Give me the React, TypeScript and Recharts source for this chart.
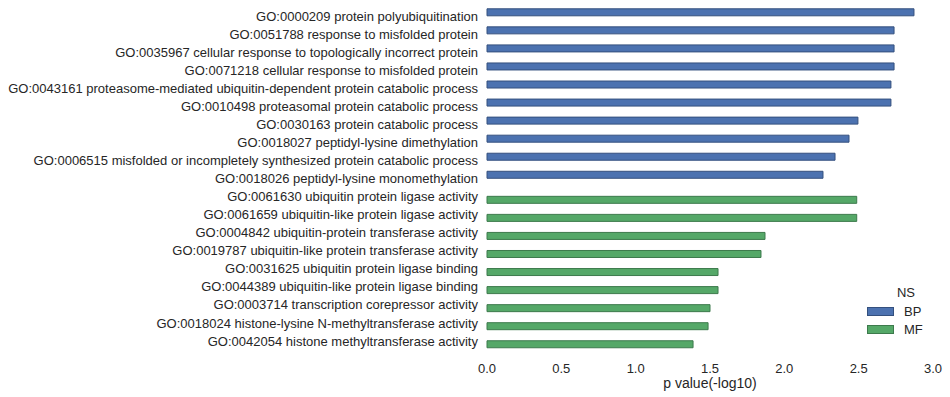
import React from "react";
import { BarChart, Bar, XAxis, YAxis, Legend } from "recharts";

const categories = [
  "GO:0000209 protein polyubiquitination",
  "GO:0051788 response to misfolded protein",
  "GO:0035967 cellular response to topologically incorrect protein",
  "GO:0071218 cellular response to misfolded protein",
  "GO:0043161 proteasome-mediated ubiquitin-dependent protein catabolic process",
  "GO:0010498 proteasomal protein catabolic process",
  "GO:0030163 protein catabolic process",
  "GO:0018027 peptidyl-lysine dimethylation",
  "GO:0006515 misfolded or incompletely synthesized protein catabolic process",
  "GO:0018026 peptidyl-lysine monomethylation",
  "GO:0061630 ubiquitin protein ligase activity",
  "GO:0061659 ubiquitin-like protein ligase activity",
  "GO:0004842 ubiquitin-protein transferase activity",
  "GO:0019787 ubiquitin-like protein transferase activity",
  "GO:0031625 ubiquitin protein ligase binding",
  "GO:0044389 ubiquitin-like protein ligase binding",
  "GO:0003714 transcription corepressor activity",
  "GO:0018024 histone-lysine N-methyltransferase activity",
  "GO:0042054 histone methyltransferase activity",
];

const nsGroup = [
  "BP", "BP", "BP", "BP", "BP", "BP", "BP", "BP", "BP", "BP",
  "MF", "MF", "MF", "MF", "MF", "MF", "MF", "MF", "MF",
];

const pValues = [
  2.872, 2.738, 2.738, 2.738, 2.717, 2.717, 2.495, 2.435, 2.341, 2.26,
  2.487, 2.487, 1.87, 1.843, 1.554, 1.554, 1.5, 1.487, 1.386,
];

const xTicks = [0, 0.5, 1.0, 1.5, 2.0, 2.5, 3.0];

const data = categories.map((name, i) => ({
  name,
  BP: nsGroup[i] === "BP" ? pValues[i] : null,
  MF: nsGroup[i] === "MF" ? pValues[i] : null,
}));

const BP_COLOR = "#4C72B0";
const MF_COLOR = "#55A868";
const TEXT = "#262626";
const FONT = "'Liberation Sans', Arial, sans-serif";

const LegendContent = () => (
  <div style={{ fontFamily: FONT, color: TEXT, fontSize: 13 }}>
    <div style={{ textAlign: "center", marginLeft: 8, height: 18, lineHeight: "18px" }}>NS</div>
    {[
      { k: "BP", c: BP_COLOR, s: "#34507e" },
      { k: "MF", c: MF_COLOR, s: "#3d7a4c" },
    ].map((it) => (
      <div key={it.k} style={{ display: "flex", alignItems: "center", height: 18 }}>
        <div
          style={{
            width: 25,
            height: 7,
            background: it.c,
            border: `1px solid ${it.s}`,
            marginRight: 10,
          }}
        />
        <span>{it.k}</span>
      </div>
    ))}
  </div>
);

const YTick = (props: any) => {
  const { x, y, payload } = props;
  return (
    <text x={x} y={y} dy="0.355em" textAnchor="end" fill={TEXT} fontSize={13} fontFamily={FONT}>
      {payload.value}
    </text>
  );
};

export default function App() {
  return (
    <div style={{ position: "absolute", left: 0, top: 0, background: "#fff" }}>
      <BarChart
        width={950}
        height={397}
        data={data}
        layout="vertical"
        margin={{ top: 7, right: 17, bottom: 0, left: 0 }}
        barCategoryGap="10%"
        barGap={0}
        style={{ fontFamily: FONT }}
      >
        <XAxis
          type="number"
          domain={[0, 3]}
          ticks={xTicks}
          tickFormatter={(v: number) => v.toFixed(1)}
          axisLine={false}
          tickLine={false}
          height={47}
          tick={{ fill: TEXT, fontSize: 13 }}
          tickMargin={8}
          label={{
            value: "p value(-log10)",
            position: "insideBottom",
            offset: 9,
            fill: TEXT,
            fontSize: 14,
          }}
        />
        <YAxis
          type="category"
          dataKey="name"
          width={487}
          axisLine={false}
          tickLine={false}
          interval={0}
          tickMargin={3}
          tick={<YTick />}
        />
        <Legend
          verticalAlign="middle"
          align="center"
          layout="horizontal"
          wrapperStyle={{ position: "absolute", left: 867, top: 284, width: 70 }}
          content={<LegendContent />}
        />
        <Bar dataKey="BP" fill={BP_COLOR} stroke="#34507e" strokeWidth={1} isAnimationActive={false} />
        <Bar dataKey="MF" fill={MF_COLOR} stroke="#3d7a4c" strokeWidth={1} isAnimationActive={false} />
      </BarChart>
    </div>
  );
}
